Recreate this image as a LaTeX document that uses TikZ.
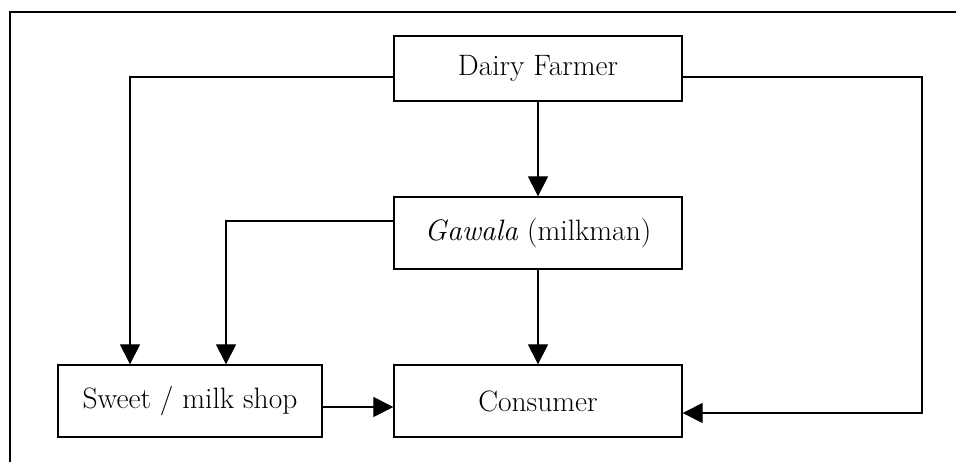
\documentclass[tikz,border=0pt]{standalone}
\usetikzlibrary{arrows.meta}
\begin{document}
\begin{tikzpicture}[x=1pt,y=-1pt,
  boxnode/.style={draw,line width=1.3pt,minimum width=288pt,minimum height=65pt,inner sep=0pt,font=\fontsize{29.5}{34}\selectfont},
  conn/.style={line width=1.1pt,-{Triangle[length=20pt,width=20pt]}},
  plain/.style={line width=1.1pt}]
\useasboundingbox (0,0) rectangle (956,461);
\draw[line width=1.6pt] (10,480) -- (10,12) -- (970,12);
\node[boxnode] (farmer) at (538,68.5) {Dairy Farmer};
\node[boxnode,minimum height=72pt] (gawala) at (538,233) {\textit{Gawala} (milkman)};
\node[boxnode,minimum height=72pt] (consumer) at (538,401) {Consumer};
\node[boxnode,minimum width=264pt,minimum height=72pt] (shop) at (190,401) {Sweet / milk shop};
\coordinate (lc) at (130,77);
\coordinate (rc) at (922,77);
\coordinate (gc) at (226,221);
\draw[conn] (farmer.south) -- (gawala.north);
\draw[conn] (gawala.south) -- (consumer.north);
\draw[conn] (farmer.west |- lc) -- (lc) -- (lc |- shop.north);
\draw[conn] (gawala.west |- gc) -- (gc) -- (gc |- shop.north);
\draw[conn] (shop.east |- 0,407) -- (consumer.west |- 0,407);
\draw[conn] (farmer.east |- rc) -- (rc) -- (rc |- 0,413) -- (consumer.east |- 0,413);
\end{tikzpicture}
\end{document}
